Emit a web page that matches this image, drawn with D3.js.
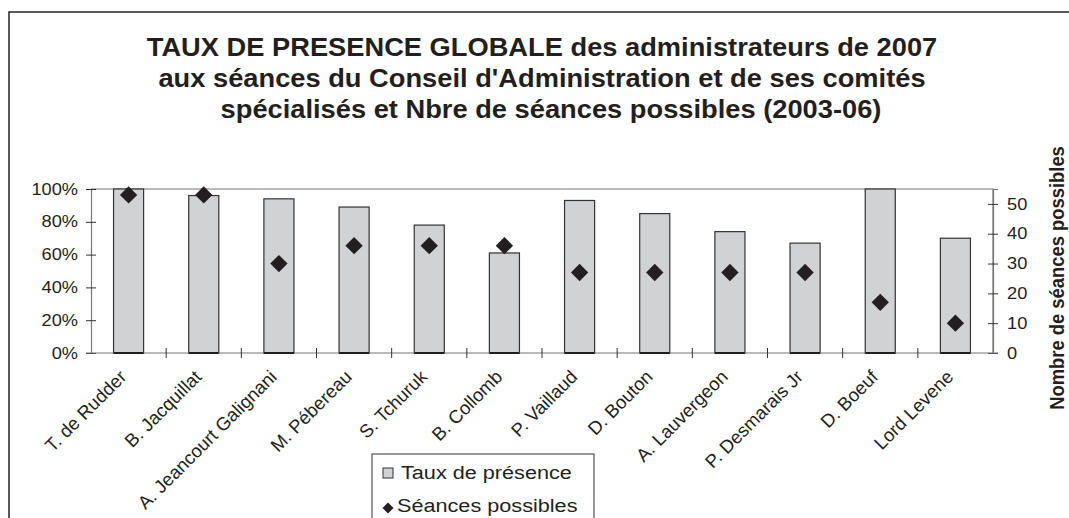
<!DOCTYPE html>
<html lang="fr">
<head>
<meta charset="UTF-8">
<title>Taux de presence globale</title>
<script src="https://d3js.org/d3.v7.min.js"></script>
<style>
  body { margin: 0; background: #fff; font-family: "Liberation Sans", Arial, sans-serif; }
  svg { display: block; }
</style>
</head>
<body>
<svg width="1069" height="518"></svg>
<script>
// data
const names = ["T. de Rudder", "B. Jacquillat", "A. Jeancourt Galignani", "M. Pébereau",
  "S. Tchuruk", "B. Collomb", "P. Vaillaud", "D. Bouton", "A. Lauvergeon",
  "P. Desmarais Jr", "D. Boeuf", "Lord Levene"];
const presence = [1.00, 0.96, 0.94, 0.89, 0.78, 0.61, 0.93, 0.85, 0.74, 0.67, 1.00, 0.70];
const seances = [53, 53, 30, 36, 36, 36, 27, 27, 27, 27, 17, 10];
const leftTicks = [0, 0.2, 0.4, 0.6, 0.8, 1];
const rightTicks = [0, 10, 20, 30, 40, 50];
const titleLines = [
  "TAUX DE PRESENCE GLOBALE des administrateurs de 2007",
  "aux séances du Conseil d'Administration et de ses comités",
  "spécialisés et Nbre de séances possibles (2003-06)"
];
const legendLabels = ["Taux de présence", "Séances possibles"];

const svg = d3.select("svg");
const pLeft = 91, pRight = 993, pTop = 189, pBottom = 353;
const sx = 1.14; // the original picture is a bit wider than tall

// outer frame
svg.append("rect").attr("x", 9).attr("y", 12).attr("width", 1100).attr("height", 560)
  .attr("fill", "none").attr("stroke", "#222").attr("stroke-width", 1.5);

// title
const tx = [542, 542, 551], ty = [56, 87, 118];
svg.append("g").selectAll("text").data(titleLines).join("text")
  .attr("transform", (d, i) => `translate(${tx[i]},${ty[i]}) scale(1.07,1)`)
  .attr("text-anchor", "middle")
  .attr("font-weight", "bold").attr("font-size", 25.5).attr("fill", "#231f20")
  .text(d => d);

const x = d3.scaleBand().domain(names).range([pLeft, pRight]).paddingInner(0.6).paddingOuter(0.3);
const yL = d3.scaleLinear().domain([0, 1]).range([pBottom, pTop]);
const yR = d3.scaleLinear().domain([0, 55]).range([pBottom, pTop]);
const step = x.step();

// plot frame (top + right)
svg.append("path")
  .attr("d", `M${pLeft},${pTop}H${pRight}V${pBottom}`)
  .attr("fill", "none").attr("stroke", "#777").attr("stroke-width", 1.2);

// bars
svg.append("g").selectAll("rect").data(names).join("rect")
  .attr("x", d => x(d)).attr("width", x.bandwidth())
  .attr("y", (d, i) => yL(presence[i])).attr("height", (d, i) => pBottom - yL(presence[i]))
  .attr("fill", "#d1d2d4").attr("stroke", "#333").attr("stroke-width", 1.2);

// left axis
const gL = svg.append("g").attr("transform", `translate(${pLeft},0)`)
  .call(d3.axisLeft(yL).tickValues(leftTicks).tickFormat(d3.format(".0%")).tickSize(5));
gL.select(".domain").attr("stroke", "#777").attr("stroke-width", 1.2);
gL.selectAll(".tick line").attr("x1", 5).attr("stroke", "#333");
gL.selectAll(".tick text").attr("x", 0).attr("transform", `translate(-13,0) scale(${sx},1)`)
  .attr("font-size", 16).attr("font-family", "Liberation Sans, Arial, sans-serif").attr("fill", "#231f20");

// right axis
const gR = svg.append("g").attr("transform", `translate(${pRight},0)`)
  .call(d3.axisRight(yR).tickValues(rightTicks).tickSize(5));
gR.select(".domain").attr("stroke", "#777").attr("stroke-width", 1.2);
gR.selectAll(".tick line").attr("x1", -5).attr("stroke", "#333");
gR.selectAll(".tick text").attr("x", 0).attr("transform", `translate(14,0) scale(${sx},1)`)
  .attr("font-size", 16).attr("font-family", "Liberation Sans, Arial, sans-serif").attr("fill", "#231f20");

// bottom axis line + category ticks
svg.append("line").attr("x1", pLeft - 5).attr("x2", pRight + 5).attr("y1", pBottom).attr("y2", pBottom)
  .attr("stroke", "#777").attr("stroke-width", 1.2);
svg.append("g").selectAll("line").data(d3.range(1, names.length)).join("line")
  .attr("x1", i => pLeft + i * step).attr("x2", i => pLeft + i * step)
  .attr("y1", pBottom - 5).attr("y2", pBottom + 5)
  .attr("stroke", "#333");
// dark bar bottoms
svg.append("g").selectAll("line").data(names).join("line")
  .attr("x1", d => x(d)).attr("x2", d => x(d) + x.bandwidth())
  .attr("y1", pBottom).attr("y2", pBottom).attr("stroke", "#231f20").attr("stroke-width", 2);

// category labels
svg.append("g").selectAll("text").data(names).join("text")
  .attr("transform", d => `translate(${x(d) + x.bandwidth() / 2 - 1},${pBottom + 25}) rotate(-45)`)
  .attr("text-anchor", "end")
  .attr("font-size", 18.5).attr("fill", "#231f20")
  .text(d => d);

// diamonds
const diamond = d3.symbol().type(d3.symbolSquare).size(150);
svg.append("g").selectAll("path").data(names).join("path")
  .attr("d", diamond)
  .attr("transform", (d, i) => `translate(${x(d) + x.bandwidth() / 2},${yR(seances[i])}) rotate(45)`)
  .attr("fill", "#231f20");

// right axis title
svg.append("text")
  .attr("transform", `translate(1064,278) scale(${sx},1) rotate(-90)`)
  .attr("text-anchor", "middle")
  .attr("font-weight", "bold").attr("font-size", 18.4).attr("fill", "#231f20")
  .text("Nombre de séances possibles");

// legend
const lg = svg.append("g").attr("transform", "translate(372,454)");
lg.append("rect").attr("width", 222).attr("height", 100)
  .attr("fill", "#fff").attr("stroke", "#555").attr("stroke-width", 1.2);
lg.append("rect").attr("x", 11).attr("y", 14).attr("width", 10).attr("height", 10)
  .attr("fill", "#d1d2d4").attr("stroke", "#333");
lg.append("path").attr("d", d3.symbol().type(d3.symbolSquare).size(60))
  .attr("transform", "translate(16,54) rotate(45)").attr("fill", "#231f20");
lg.selectAll("text.lab").data(legendLabels).join("text")
  .attr("class", "lab")
  .attr("transform", (d, i) => `translate(${i ? 25 : 29},${25 + i * 33}) scale(${sx},1)`)
  .attr("font-size", 19).attr("fill", "#231f20")
  .text(d => d);
</script>
</body>
</html>
